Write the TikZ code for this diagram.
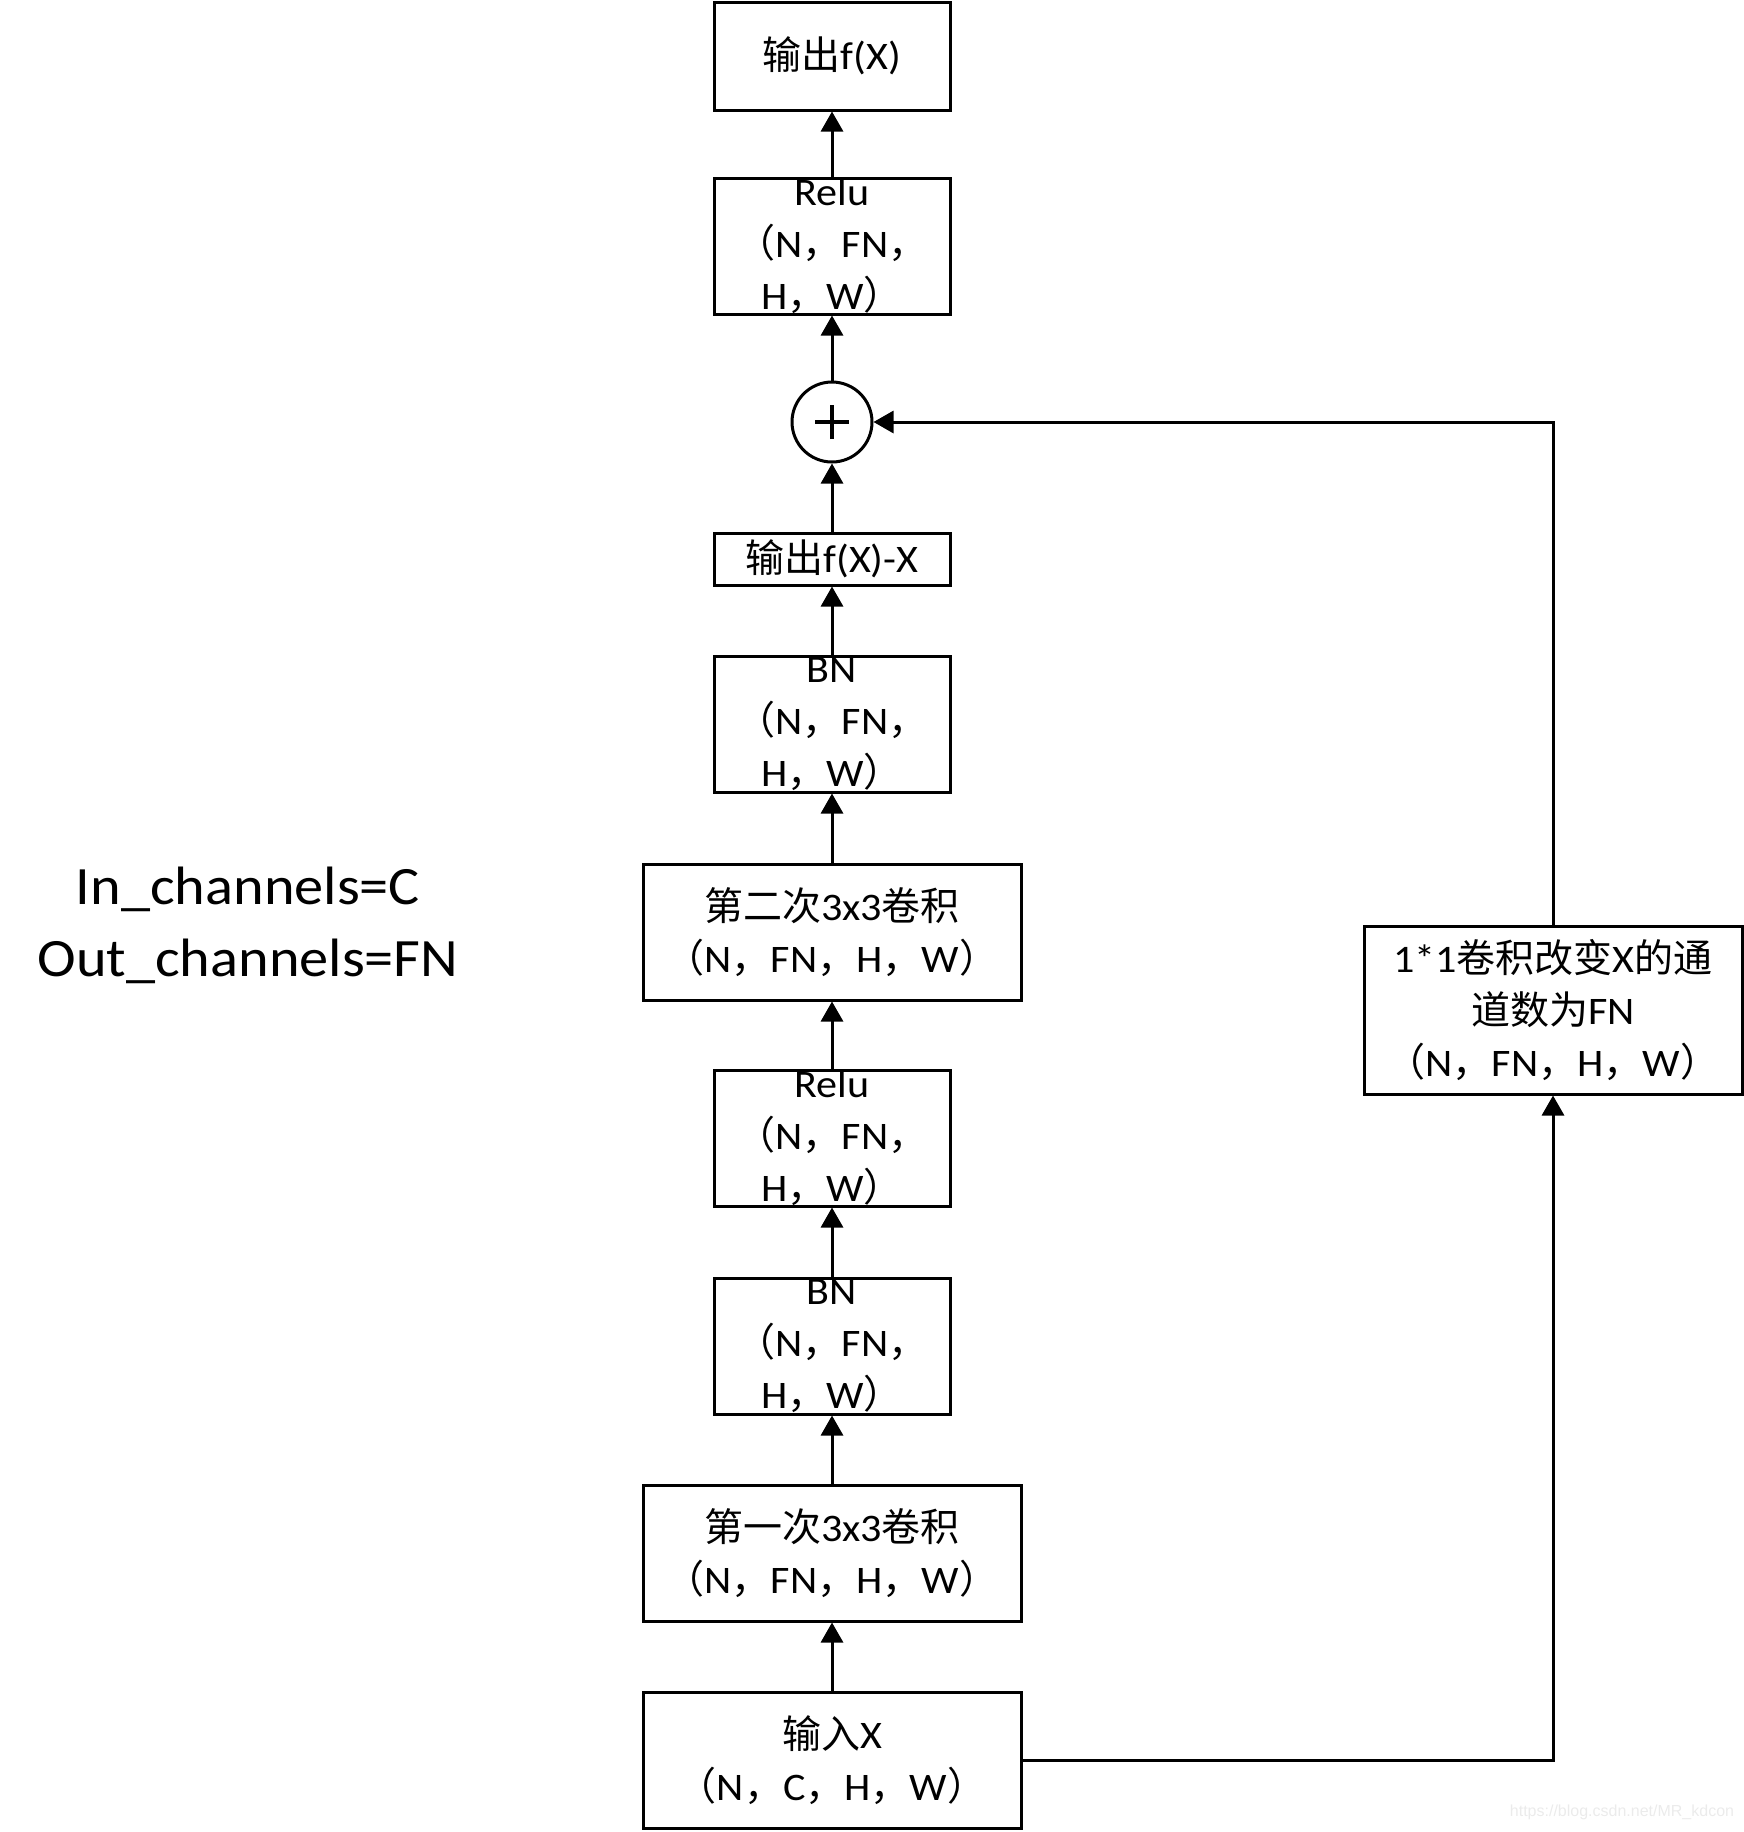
\documentclass[tikz,border=0pt]{standalone}
\usepackage{fontspec}
\setmainfont{Carlito}[FakeStretch=1.08]
\newfontfamily\cjk{Noto Sans CJK SC}
\newfontfamily\wmfont{Liberation Sans}
\usetikzlibrary{arrows.meta}
\newcommand{\zh}[1]{{\cjk #1}}

\begin{document}
\begin{tikzpicture}[>={Triangle[width=11pt,length=10pt]}, line width=1.5pt,
  blk/.style={draw, rectangle, minimum width=118pt, minimum height=68pt, inner sep=0pt, align=center, font=\fontsize{19.5}{26}\selectfont},
  wide/.style={blk, minimum width=189pt},
  txt/.style={align=center, inner sep=0pt, font=\fontsize{19.5}{26}\selectfont},
  addop/.style={draw, circle, minimum size=40pt, inner sep=0pt}]
\useasboundingbox (0pt,0pt) rectangle (872pt,-916pt);
% main branch
\draw (416pt, -28pt)node[blk, minimum height=54pt](out){\zh{输出}f(X)};
\draw (416pt, -123pt)node[blk](relu2){};
\draw (416pt, -123pt)node[txt](relu2t){Relu\\\zh{（}N\zh{，}FN\zh{，}\\H\zh{，}W\zh{）}};
\draw (416pt, -211pt)node[addop](sum){};
\draw (416pt, -279.5pt)node[blk, minimum height=26pt](res){\zh{输出}f(X)-X};
\draw (416pt, -362pt)node[blk](bn2){};
\draw (416pt, -362pt)node[txt](bn2t){BN\\\zh{（}N\zh{，}FN\zh{，}\\H\zh{，}W\zh{）}};
\draw (416pt, -466pt)node[wide](conv2){\zh{第二次}3x3\zh{卷积}\\\zh{（}N\zh{，}FN\zh{，}H\zh{，}W\zh{）}};
\draw (416pt, -569pt)node[blk](relu1){};
\draw (416pt, -569pt)node[txt](relu1t){Relu\\\zh{（}N\zh{，}FN\zh{，}\\H\zh{，}W\zh{）}};
\draw (416pt, -673pt)node[blk](bn1){};
\draw (416pt, -673pt)node[txt](bn1t){BN\\\zh{（}N\zh{，}FN\zh{，}\\H\zh{，}W\zh{）}};
\draw (416pt, -776.5pt)node[wide](conv1){\zh{第一次}3x3\zh{卷积}\\\zh{（}N\zh{，}FN\zh{，}H\zh{，}W\zh{）}};
\draw (416pt, -880pt)node[wide](in){\zh{输入}X\\\zh{（}N\zh{，}C\zh{，}H\zh{，}W\zh{）}};
% shortcut
\draw (776.5pt, -505pt)node[wide, minimum height=84pt](conv11){1*1\zh{卷积改变}X\zh{的通}\\\zh{道数为}FN\\\zh{（}N\zh{，}FN\zh{，}H\zh{，}W\zh{）}};
% notes
\draw (124pt, -462.5pt)node[align=center, font=\fontsize{27}{36}\selectfont](chan){In\_channels=C\\Out\_channels=FN};
\draw (811pt, -906pt)node[text=black!8, font=\wmfont\fontsize{8}{10}\selectfont](wm){https://blog.csdn.net/MR\_kdcon};
% plus sign
\draw[line width=2pt] ([xshift=-8.5pt]sum.center) -- ([xshift=8.5pt]sum.center);
\draw[line width=2pt] ([yshift=-8.5pt]sum.center) -- ([yshift=8.5pt]sum.center);
\path[->] (in) edge (conv1);
\path[->] (conv1) edge (bn1);
\path[->] (bn1) edge (relu1);
\path[->] (relu1) edge (conv2);
\path[->] (conv2) edge (bn2);
\path[->] (bn2) edge (res);
\path[->] (res) edge (sum);
\path[->] (sum) edge (relu2);
\path[->] (relu2) edge (out);
\draw[->] (in.east) -| (conv11.south);
\draw[->] (conv11.north) |- (sum.east);
\end{tikzpicture}
\end{document}
